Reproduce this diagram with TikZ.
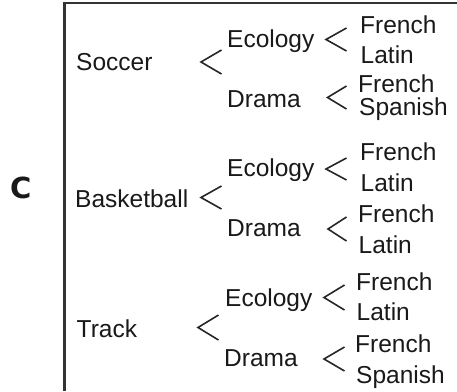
\documentclass[tikz,border=0pt]{standalone}
\usepackage{fontspec}
\setmainfont{Liberation Sans}
\newfontfamily\cfont{DejaVu Sans}
\begin{document}
\begin{tikzpicture}[x=1pt,y=-1pt,
  lbl/.style={anchor=base west,inner sep=0pt,text=black!90,font=\fontsize{24.5}{29}\selectfont},
  letter/.style={anchor=base west,inner sep=0pt,text=black!90,font=\cfont\bfseries\fontsize{29}{34}\selectfont},
  chev/.style={draw=black!85,line width=1.6pt,line join=miter},
  frame/.style={draw=black!80,line width=2.2pt}]
\useasboundingbox (0,0) rectangle (457,391);
% frame
\coordinate (ftl) at (64.5,3);
\coordinate (ftr) at (457,3);
\coordinate (fbl) at (64.5,391);
\draw[frame] (ftr) -- (ftl) -- (fbl);
% label
\node[letter] (c) at (10,198) {C};
% first level
\node[lbl] (soccer) at (76,70) {Soccer};
\node[lbl] (basket) at (75,207) {Basketball};
\node[lbl] (track) at (76.5,337) {Track};
% second level
\node[lbl] (eco1) at (227,47) {Ecology};
\node[lbl] (dra1) at (227,107) {Drama};
\node[lbl] (eco2) at (227,176) {Ecology};
\node[lbl] (dra2) at (227,236) {Drama};
\node[lbl] (eco3) at (225,306) {Ecology};
\node[lbl] (dra3) at (224,366) {Drama};
% third level
\node[lbl] (f1) at (360,33) {French};
\node[lbl] (l1) at (360.5,63) {Latin};
\node[lbl] (f2) at (358,92) {French};
\node[lbl] (s2) at (359,115) {Spanish};
\node[lbl] (f3) at (360,160) {French};
\node[lbl] (l3) at (360.5,191) {Latin};
\node[lbl] (f4) at (358,222) {French};
\node[lbl] (l4) at (358.5,253) {Latin};
\node[lbl] (f5) at (356,290) {French};
\node[lbl] (l5) at (356.5,320) {Latin};
\node[lbl] (f6) at (355,352) {French};
\node[lbl] (s6) at (356,383) {Spanish};
% chevrons
\draw[chev] (221.5,50) -- (201,62) -- (221.5,74);
\draw[chev] (346.5,28) -- (326,39.5) -- (346.5,51);
\draw[chev] (346.5,86) -- (327.5,97.5) -- (346.5,109);
\draw[chev] (221.5,186) -- (201,197.5) -- (221.5,209);
\draw[chev] (346.5,158) -- (326,169) -- (346.5,180);
\draw[chev] (346.5,217) -- (328,229) -- (346.5,241);
\draw[chev] (218.5,315) -- (198,327.5) -- (218.5,340);
\draw[chev] (344.5,285) -- (324,297.5) -- (344.5,310);
\draw[chev] (344.5,347) -- (324,359) -- (344.5,371);
\end{tikzpicture}
\end{document}
